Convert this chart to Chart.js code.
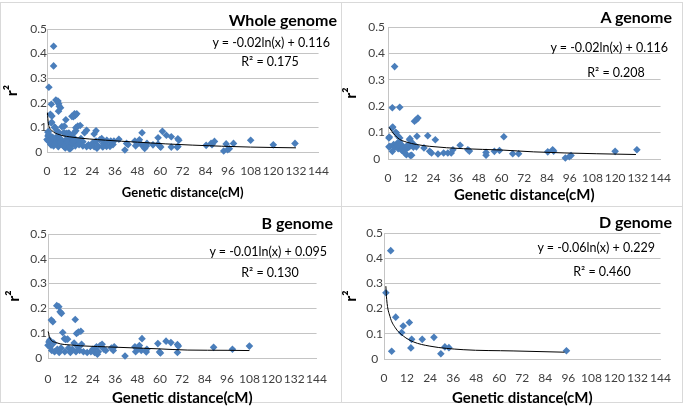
<!DOCTYPE html>
<html lang="en">
<head>
    <meta charset="UTF-8">
    <title>LD decay by genome</title>
    <script src="https://cdn.jsdelivr.net/npm/chart.js"></script>
    <style>
        body {
            margin: 0;
            background: #fff;
            font-family: 'Lato', sans-serif;
        }
        .wrap {
            position: relative;
            width: 683px;
            height: 414px;
            overflow: hidden;
        }
        .panel {
            position: absolute;
            border: 1px solid #d9d9d9;
            box-sizing: border-box;
        }
        canvas {
            position: absolute;
        }
        .name, .eq, .r2 {
            position: absolute;
            white-space: nowrap;
            color: #000;
        }
        .name {
            font-weight: bold;
            font-size: 16px;
            line-height: 16px;
        }
        .eq, .r2 {
            font-size: 12.5px;
            line-height: 14px;
        }
        .r2 {
            transform: translateX(-50%);
        }
    </style>
</head>
<body>
<div class="wrap">
    <div class="panel" style="left:0;top:2px;width:342px;height:205px"></div>
    <div class="panel" style="left:341px;top:2px;width:342px;height:205px"></div>
    <div class="panel" style="left:0;top:206px;width:342px;height:197px"></div>
    <div class="panel" style="left:341px;top:206px;width:342px;height:197px"></div>

    <canvas id="whole" style="left:0;top:0"></canvas>
    <canvas id="agen" style="left:341px;top:0"></canvas>
    <canvas id="bgen" style="left:0;top:206px"></canvas>
    <canvas id="dgen" style="left:341px;top:206px"></canvas>

    <div class="name" style="right:346px;top:12px">Whole genome</div>
    <div class="eq" style="right:353px;top:36px">y = -0.02ln(x) + 0.116</div>
    <div class="r2" style="left:270px;top:55px">R² = 0.175</div>

    <div class="name" style="right:11px;top:9px">A genome</div>
    <div class="eq" style="right:15px;top:41px">y = -0.02ln(x) + 0.116</div>
    <div class="r2" style="left:616px;top:66px">R² = 0.208</div>

    <div class="name" style="right:350px;top:215px">B genome</div>
    <div class="eq" style="right:356px;top:245px">y = -0.01ln(x) + 0.095</div>
    <div class="r2" style="left:270px;top:266px">R² = 0.130</div>

    <div class="name" style="right:11px;top:214px">D genome</div>
    <div class="eq" style="right:28px;top:241px">y = -0.06ln(x) + 0.229</div>
    <div class="r2" style="left:602px;top:265px">R² = 0.460</div>
</div>

<script>
    // marker pairs (genetic distance cM, r2)
    const aDist = [0.5, 0.5, 0.7, 1.0, 2.3, 2.3, 2.3, 2.5, 3.0, 3.5, 3.7, 4.0, 4.4, 4.6, 5.0, 5.3, 5.4, 6.0, 6.2, 6.2, 6.3, 7.0, 7.2, 7.9, 8.0, 8.1, 9.0, 9.7, 9.8, 10.0, 10.7, 11.0, 11.4, 11.6, 11.8, 12.0, 12.5, 13.0, 13.4, 14.0, 15.0, 15.0, 15.3, 15.8, 19.0, 21.0, 22.0, 23.0, 25.0, 26.4, 29.4, 31.6, 33.4, 34.3, 38.1, 42.2, 43.0, 51.8, 51.8, 56.2, 58.9, 61.2, 65.9, 69.0, 84.4, 87.0, 87.5, 93.7, 95.8, 96.7, 120.0, 131.5];
    const aR2   = [0.080, 0.046, 0.083, 0.048, 0.194, 0.118, 0.029, 0.121, 0.055, 0.350, 0.045, 0.100, 0.099, 0.058, 0.050, 0.086, 0.039, 0.065, 0.196, 0.080, 0.048, 0.055, 0.033, 0.042, 0.030, 0.043, 0.023, 0.016, 0.039, 0.050, 0.048, 0.045, 0.073, 0.077, 0.013, 0.050, 0.014, 0.060, 0.045, 0.143, 0.149, 0.046, 0.086, 0.155, 0.042, 0.088, 0.029, 0.023, 0.073, 0.019, 0.023, 0.023, 0.023, 0.035, 0.052, 0.035, 0.030, 0.025, 0.014, 0.029, 0.032, 0.084, 0.020, 0.020, 0.027, 0.035, 0.030, 0.004, 0.009, 0.013, 0.029, 0.035];

    const bDist = [0, 0.5, 0.9, 1.2, 1.8, 2.0, 2.6, 3.0, 3.5, 4.7, 5.0, 5.8, 6.0, 6.5, 7.0, 7.2, 7.9, 8.8, 9.0, 9.5, 10.5, 11.0, 12.0, 13.0, 14.0, 14.6, 15.0, 15.3, 16.0, 16.3, 17.0, 17.6, 18.0, 19.0, 21.0, 23.0, 24.0, 25.0, 26.0, 26.5, 27.0, 28.0, 29.0, 30.0, 31.0, 34.0, 35.0, 35.5, 41.3, 46.6, 47.0, 48.0, 49.0, 50.0, 50.4, 52.7, 53.0, 58.9, 59.8, 60.3, 63.3, 65.9, 69.4, 69.9, 69.4, 88.8, 98.9, 108.0];
    const bR2   = [0.051, 0.065, 0.072, 0.045, 0.153, 0.030, 0.146, 0.060, 0.025, 0.211, 0.035, 0.207, 0.022, 0.186, 0.040, 0.180, 0.103, 0.078, 0.025, 0.075, 0.076, 0.040, 0.022, 0.035, 0.060, 0.155, 0.025, 0.099, 0.045, 0.105, 0.030, 0.108, 0.055, 0.025, 0.022, 0.025, 0.035, 0.022, 0.045, 0.015, 0.025, 0.050, 0.055, 0.035, 0.030, 0.040, 0.030, 0.045, 0.008, 0.045, 0.025, 0.035, 0.050, 0.030, 0.078, 0.024, 0.035, 0.058, 0.024, 0.020, 0.068, 0.062, 0.054, 0.048, 0.022, 0.043, 0.035, 0.048];

    const dDist = [1.0, 3.5, 4.0, 6.1, 9.2, 10.0, 13.2, 14.0, 14.4, 19.9, 26.0, 29.6, 31.7, 33.8, 95.0];
    const dR2   = [0.263, 0.430, 0.031, 0.166, 0.105, 0.131, 0.145, 0.044, 0.078, 0.078, 0.086, 0.021, 0.048, 0.045, 0.033];

    // logarithmic trend lines
    const wholeFitX = [0.2, 0.7, 2.4, 6.8, 13.8, 31, 48, 63, 77, 108, 132];
    const wholeFitY = [0.160, 0.117, 0.089, 0.070, 0.060, 0.048, 0.040, 0.033, 0.028, 0.020, 0.017];
    const aFitX = [0.6, 2, 3.7, 6, 9.8, 15, 22, 40, 60, 77, 110, 131];
    const aFitY = [0.120, 0.105, 0.090, 0.075, 0.064, 0.055, 0.048, 0.039, 0.034, 0.027, 0.020, 0.017];
    const bFitX = [0.1, 0.9, 4.4, 13, 31, 59, 75, 96, 108];
    const bFitY = [0.107, 0.082, 0.062, 0.052, 0.045, 0.037, 0.032, 0.031, 0.030];
    const dFitX = [0.97, 1.4, 3.1, 5.7, 10.1, 15.3, 23.9, 41.2, 67.2, 94];
    const dFitY = [0.289, 0.236, 0.169, 0.126, 0.091, 0.068, 0.051, 0.037, 0.032, 0.027];

    const xMax = 144, xStep = 12;
    const yMax = 0.5, yStep = 0.1;

    const gridColor = '#c4c4c4';
    const markerColor = '#4a7ebb';

    function pairs(xs, ys) {
        return xs.map((x, i) => ({ x: x, y: ys[i] }));
    }

    // box: plot area in canvas px, plus label offsets
    function makeChart(id, W, H, box, ptsX, ptsY, fitX, fitY) {
        const canvas = document.getElementById(id);
        canvas.width = W;
        canvas.height = H;
        canvas.style.width = W + 'px';
        canvas.style.height = H + 'px';

        return new Chart(canvas, {
            type: 'scatter',
            data: {
                datasets: [
                    {
                        data: pairs(fitX, fitY),
                        showLine: true,
                        borderColor: '#000',
                        borderWidth: 1,
                        pointRadius: 0,
                        cubicInterpolationMode: 'monotone',
                        fill: false,
                        clip: false,
                        order: 0
                    },
                    {
                        data: pairs(ptsX, ptsY),
                        pointStyle: 'rectRot',
                        pointRadius: 3.8,
                        backgroundColor: markerColor,
                        borderColor: markerColor,
                        borderWidth: 0,
                        clip: false,
                        order: 1
                    }
                ]
            },
            options: {
                responsive: false,
                animation: false,
                devicePixelRatio: 1,
                layout: {
                    padding: { left: 0, top: box.t, right: W - box.r, bottom: 0 }
                },
                plugins: {
                    legend: { display: false },
                    tooltip: { enabled: false }
                },
                scales: {
                    x: {
                        type: 'linear',
                        min: 0,
                        max: xMax,
                        afterFit: s => { s.height = H - box.b; },
                        grid: { display: false, drawTicks: false },
                        border: { display: true, color: gridColor },
                        ticks: {
                            stepSize: xStep,
                            autoSkip: false,
                            maxRotation: 0,
                            padding: box.xp,
                            color: '#404040',
                            font: { family: 'Lato', size: 12 }
                        },
                        title: {
                            display: true,
                            text: 'Genetic distance(cM)',
                            color: '#000',
                            font: { family: 'Lato', size: box.xts, weight: 'bold' },
                            padding: { top: 0, bottom: box.xtp }
                        }
                    },
                    y: {
                        min: 0,
                        max: yMax,
                        afterFit: s => { s.width = box.l; },
                        grid: { color: gridColor, drawTicks: false },
                        border: { display: true, color: gridColor },
                        ticks: {
                            stepSize: yStep,
                            padding: box.yp,
                            crossAlign: 'center',
                            color: '#404040',
                            font: { family: 'Lato', size: 12 }
                        },
                        title: {
                            display: true,
                            text: 'r²',
                            color: '#000',
                            font: { family: 'Lato', size: 16, weight: 'bold' },
                            padding: { top: box.ytp, bottom: 0 }
                        }
                    }
                }
            }
        });
    }

    const wholeX = aDist.concat(bDist, dDist);
    const wholeY = aR2.concat(bR2, dR2);

    makeChart('whole', 341, 206, { l: 47, r: 322, t: 29, b: 152, xp: 12, yp: 0, xts: 13, xtp: 5, ytp: 2.4 },
        wholeX, wholeY, wholeFitX, wholeFitY);
    makeChart('agen', 342, 206, { l: 47, r: 320, t: 27, b: 159, xp: 12, yp: 3, xts: 15, xtp: 2, ytp: 0 },
        aDist, aR2, aFitX, aFitY);
    makeChart('bgen', 341, 208, { l: 48, r: 322, t: 28, b: 152, xp: 14, yp: 1, xts: 15, xtp: 7, ytp: 4.4 },
        bDist, bR2, bFitX, bFitY);
    makeChart('dgen', 342, 208, { l: 43, r: 320, t: 27, b: 153, xp: 12, yp: 1, xts: 15, xtp: 7, ytp: 0 },
        dDist, dR2, dFitX, dFitY);
</script>
</body>
</html>
